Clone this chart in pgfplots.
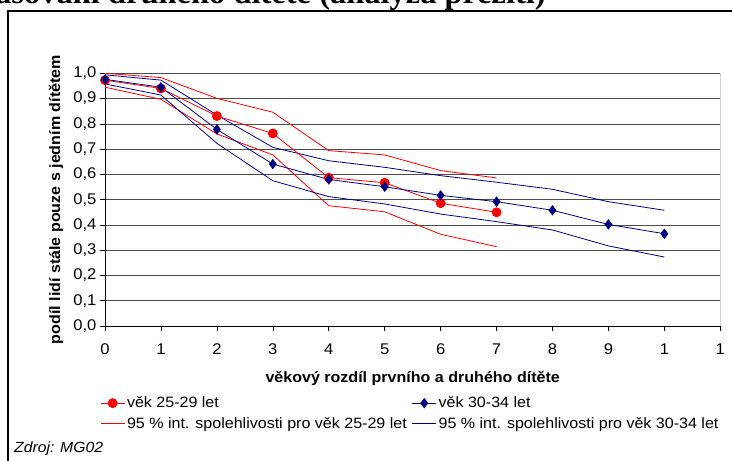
\documentclass[border=0pt]{standalone}
\usepackage{pgfplots}
\pgfplotsset{compat=1.18}
\usepackage{fontspec}
\setmainfont{Liberation Sans}[FakeStretch=1.07]
\newfontfamily\titlefont{Liberation Serif}
\definecolor{navyb}{RGB}{0,0,128}
\definecolor{redl}{RGB}{255,0,0}

\begin{document}
\begin{tikzpicture}[x=1pt,y=1pt]
\useasboundingbox (0,-461) rectangle (732,0);
% title, cut off at the top as in the source
\node[anchor=base east, inner sep=0, font=\titlefont\bfseries\fontsize{32.5}{38}\selectfont] at (546,-3.5) {Časování druhého dítěte (analýza přežití)};
\draw[line width=2pt] (7.5,-470) -- (7.5,-10.5) -- (740,-10.5);
\begin{axis}[
  scale only axis, width=615.3pt, height=252.7pt,
  at={(105pt,-326pt)}, anchor=south west,
  xmin=0, xmax=11, ymin=0, ymax=1,
  axis x line*=bottom, axis y line*=left,
  axis line style={-, black, line width=0.7pt},
  xtick={0,1,2,3,4,5,6,7,8,9,10,11},
  xticklabels={0,1,2,3,4,5,6,7,8,9,1,1},
  ytick={0,0.1,0.2,0.3,0.4,0.5,0.6,0.7,0.8,0.9,1.0},
  yticklabel style={/pgf/number format/.cd, fixed, fixed zerofill, precision=1, use comma},
  /pgf/number format/assume math mode=true,
  ymajorgrids, grid style={black!70, line width=0.6pt},
  tick align=outside, major tick length=5pt,
  tick style={black, line width=0.6pt},
  ticklabel style={font=\fontsize{15.5}{18}\selectfont},
  xticklabel style={yshift=-9pt},
  xlabel={věkový rozdíl prvního a druhého dítěte},
  xlabel style={at={(axis description cs:0.5,0)}, anchor=center, yshift=-52pt, font=\bfseries\fontsize{15}{18}\selectfont},
  ylabel={podíl lidí stále pouze s jedním dítětem},
  ylabel style={at={(axis description cs:0,0.5)}, anchor=center, yshift=49pt, font=\bfseries\fontsize{15}{18}\selectfont},
  legend columns=2,
  legend cell align=left,
  legend style={at={(axis description cs:-0.0081,-0.272)}, anchor=north west, draw=none, fill=none,
    font=\fontsize{15}{18}\selectfont, inner sep=0pt,
    /tikz/every even column/.append style={column sep=3pt},
    row sep=4pt},
  legend image code/.code={\draw[mark repeat=2, mark phase=2, #1] plot coordinates {(0pt,0pt) (12pt,0pt) (24pt,0pt)};},
]
% confidence bands 25-29
\addplot[redl, line width=0.8pt, forget plot] coordinates {(0,1.0) (1,0.983) (2,0.901) (3,0.846) (4,0.694) (5,0.677) (6,0.615) (7,0.586)};
\addplot[redl, line width=0.8pt, forget plot] coordinates {(0,0.945) (1,0.897) (2,0.760) (3,0.677) (4,0.476) (5,0.452) (6,0.363) (7,0.314)};
% confidence bands 30-34
\addplot[navyb, line width=0.8pt, forget plot] coordinates {(0,0.994) (1,0.973) (2,0.835) (3,0.707) (4,0.654) (5,0.628) (6,0.595) (7,0.569) (8,0.541) (9,0.492) (10,0.458)};
\addplot[navyb, line width=0.8pt, forget plot] coordinates {(0,0.958) (1,0.914) (2,0.723) (3,0.575) (4,0.512) (5,0.483) (6,0.443) (7,0.413) (8,0.380) (9,0.317) (10,0.273)};
% estimates
\addplot[redl, line width=0.8pt, mark=*, mark size=4.5pt, mark options={fill=redl, draw=redl}] coordinates {(0,0.973) (1,0.940) (2,0.831) (3,0.762) (4,0.587) (5,0.567) (6,0.486) (7,0.450)};
\addlegendentry{věk 25-29 let}
\addplot[navyb, line width=0.8pt, mark=diamond*, mark size=4.6pt, mark options={fill=navyb, draw=navyb}] coordinates {(0,0.976) (1,0.945) (2,0.778) (3,0.641) (4,0.580) (5,0.551) (6,0.517) (7,0.492) (8,0.458) (9,0.402) (10,0.365)};
\addlegendentry{věk 30-34 let}
\addlegendimage{redl, line width=0.8pt}
\addlegendentry{95 \% int. spolehlivosti pro věk 25-29 let}
\addlegendimage{navyb, line width=0.8pt}
\addlegendentry{95 \% int. spolehlivosti pro věk 30-34 let}
\draw[gray, line width=0.8pt] (axis cs:11,0) -- (axis cs:11,1);
\end{axis}
\node[anchor=base west, inner sep=0, font=\itshape\fontsize{14.7}{17}\selectfont] at (14,-452) {Zdroj: MG02};
\end{tikzpicture}
\end{document}
